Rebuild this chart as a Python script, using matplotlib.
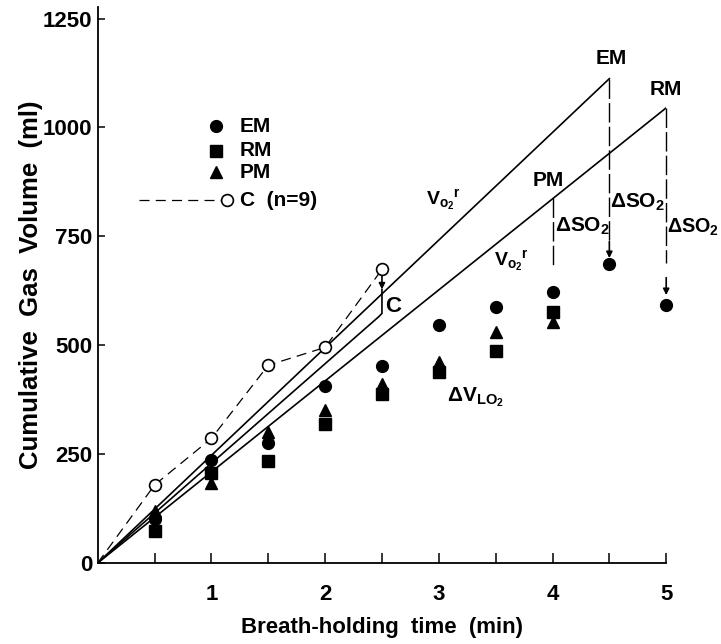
import matplotlib
matplotlib.use("Agg")
import matplotlib.pyplot as plt

plt.rcParams['font.family'] = ['Liberation Sans', 'DejaVu Sans']
plt.rcParams['mathtext.fontset'] = 'custom'
plt.rcParams['mathtext.rm'] = 'Liberation Sans'
plt.rcParams['mathtext.bf'] = 'Liberation Sans:bold'
plt.rcParams['mathtext.it'] = 'Liberation Sans'

# ---- data ----
times = [0.5, 1.0, 1.5, 2.0, 2.5, 3.0, 3.5, 4.0]
em_values = [102, 236, 276, 406, 452, 547, 588, 622]
rm_values = [73, 207, 235, 319, 389, 439, 487, 576]
pm_values = [120, 184, 301, 352, 412, 462, 530, 553]
end_times = [4.5, 5.0]
end_values = [686, 592]

c_times = [0.0, 0.5, 1.0, 1.5, 2.0, 2.5]
c_values = [0, 179, 286, 454, 495, 674]

# Vo2r lines (origin -> end of breath hold)
em_line_t = [0.0, 4.5]
em_line_v = [0, 1112]
rm_line_t = [0.0, 5.0]
rm_line_v = [0, 1045]
pm_end_t = 4.0
pm_end_v = 839
c_line_t = [0.0, 2.47, 2.5, 2.5]
c_line_v = [0, 565, 573, 628]

x_ticks_major = [1, 2, 3, 4, 5]
x_ticks_minor = [0.5, 1.5, 2.5, 3.5, 4.5]
y_ticks = [0, 250, 500, 750, 1000, 1250]

fig = plt.figure(figsize=(7.21, 6.44), dpi=100)
ax = fig.add_axes([0.1355, 0.1258, 0.7885, 0.863])

lw = 1.2
ax.plot(em_line_t, em_line_v, color='black', lw=lw, zorder=2)
ax.plot(rm_line_t, rm_line_v, color='black', lw=lw, zorder=2)
ax.plot(c_line_t, c_line_v, color='black', lw=lw, zorder=2)

# C dashed series
ax.plot(c_times, c_values, color='black', lw=0.9, ls=(0, (8, 5)), zorder=3)
ax.plot(c_times[1:], c_values[1:], ls='none', marker='o', ms=8.5,
        mfc='white', mec='black', mew=1.2, zorder=5)

# arrow from C circle down to the line
ax.annotate('', xy=(2.5, 628), xytext=(2.5, 664),
            arrowprops=dict(arrowstyle='-|>', color='black', lw=1.2,
                            mutation_scale=9, shrinkA=0, shrinkB=0), zorder=4)

# ΔSO2 dashed verticals
dash = (0, (14, 3))
ax.plot([pm_end_t, pm_end_t], [pm_end_v, 680], color='black', lw=1.0, ls=dash, zorder=2)
ax.plot([4.5, 4.5], [em_line_v[1], 735], color='black', lw=1.0, ls=dash, zorder=2)
ax.plot([5.0, 5.0], [rm_line_v[1], 688], color='black', lw=1.0, ls=dash, zorder=2,
        clip_on=False)
ax.annotate('', xy=(4.5, 700), xytext=(4.5, 738),
            arrowprops=dict(arrowstyle='-|>', color='black', lw=1.2,
                            mutation_scale=9, shrinkA=0, shrinkB=0))
ax.annotate('', xy=(5.0, 615), xytext=(5.0, 655),
            arrowprops=dict(arrowstyle='-|>', color='black', lw=1.2,
                            mutation_scale=9, shrinkA=0, shrinkB=0))

# points
ax.plot(times, pm_values, ls='none', marker='^', ms=8, color='black', zorder=4)
ax.plot(times, rm_values, ls='none', marker='s', ms=8, color='black', zorder=4)
ax.plot(times, em_values, ls='none', marker='o', ms=8.5, color='black', zorder=4)
ax.plot(end_times, end_values, ls='none', marker='o', ms=8.5, color='black', zorder=4,
        clip_on=False)

# legend (manual)
fs_leg = 15
ax.plot([1.04], [1003], marker='o', ms=8.5, color='black', ls='none')
ax.plot([1.04], [947], marker='s', ms=8, color='black', ls='none')
ax.plot([1.04], [897], marker='^', ms=8, color='black', ls='none')
ax.plot([0.36, 1.10], [833, 833], color='black', lw=0.9, ls=(0, (8, 5)))
ax.plot([1.135], [833], marker='o', ms=8.5, mfc='white', mec='black', mew=1.2, ls='none')
for yv, lab in [(1003, 'EM'), (947, 'RM'), (897, 'PM'), (833, 'C  (n=9)')]:
    ax.text(1.25, yv, lab, fontsize=fs_leg, fontweight='bold', va='center', ha='left')

# annotations
fs = 15
vo2r = r'$\mathbf{V}_{\mathbf{o}_{\mathbf{2}}}{}^{\mathbf{r}}$'
ax.text(3.04, 833, vo2r, fontsize=14, ha='center', va='center')
ax.text(3.64, 695, vo2r, fontsize=14, ha='center', va='center')
ax.text(4.52, 1159, 'EM', fontsize=fs, fontweight='bold', ha='center', va='center')
ax.text(5.0, 1087, 'RM', fontsize=fs, fontweight='bold', ha='center', va='center',
        clip_on=False)
ax.text(3.96, 878, 'PM', fontsize=fs, fontweight='bold', ha='center', va='center')
dso2 = r'$\mathbf{\Delta SO_2}$'
ax.text(4.02, 773, dso2, fontsize=fs, ha='left', va='center')
ax.text(4.51, 828, dso2, fontsize=fs, ha='left', va='center')
ax.text(5.01, 771, dso2, fontsize=14.2, ha='left', va='center', clip_on=False)
ax.text(2.60, 588, 'C', fontsize=16, fontweight='bold', ha='center', va='center')
ax.text(3.07, 380, r'$\mathbf{\Delta V_{LO_2}}$', fontsize=fs, ha='left', va='center')

# axes styling
ax.set_xlim(0, 5)
ax.set_ylim(0, 1276)
for s in ['top', 'right']:
    ax.spines[s].set_visible(False)
for s in ['left', 'bottom']:
    ax.spines[s].set_linewidth(1.3)
ax.set_xticks(x_ticks_major)
ax.set_xticks(x_ticks_minor, minor=True)
ax.set_xticklabels([str(v) for v in x_ticks_major])
ax.set_yticks(y_ticks)
ax.set_yticklabels([str(v) for v in y_ticks])
ax.tick_params(axis='x', which='both', direction='in', length=7, width=1.1, pad=15,
               labelsize=16)
ax.tick_params(axis='y', which='both', direction='in', length=5, width=1.1, pad=4,
               labelsize=16)
for lab in ax.get_xticklabels() + ax.get_yticklabels():
    lab.set_fontweight('bold')
ax.set_xlabel('Breath-holding  time  (min)', fontsize=16, fontweight='bold', labelpad=9)
ax.set_ylabel('Cumulative  Gas  Volume  (ml)', fontsize=18.5, fontweight='bold', labelpad=0)

fig.savefig('out.png', dpi=100)
